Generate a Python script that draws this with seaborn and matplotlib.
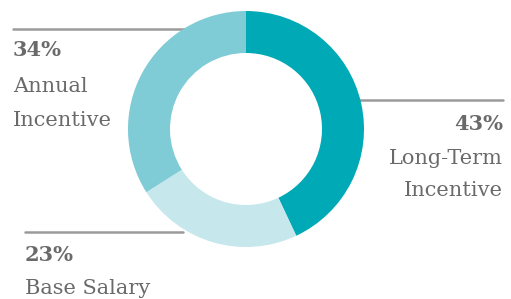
import matplotlib
matplotlib.use("Agg")
import matplotlib.pyplot as plt
import seaborn as sns

# pay mix shares, clockwise from 12 o'clock
categories = ["Long-Term Incentive", "Base Salary", "Annual Incentive"]
shares = [43, 23, 34]
colors = ["#00a9b6", "#c6e7ec", "#7fcbd6"]

sns.set_theme(style="white")
plt.rcParams['font.family'] = ['DejaVu Serif']

W, H = 511, 299
fig = plt.figure(figsize=(W / 100, H / 100), dpi=100)
ax = fig.add_axes([0, 0, 1, 1])

cx, cy, r = 246, H - 129, 118
ax.pie(shares, colors=colors, startangle=90, counterclock=False,
       center=(cx, cy), radius=r, frame=True,
       wedgeprops=dict(width=42, edgecolor="none"))

ax.set_xlim(0, W)
ax.set_ylim(0, H)
ax.set_aspect('equal')
ax.axis('off')

txt = "#6a6a6a"
line = "#9a9a9a"
fs = 15

# Annual incentive (top left)
ax.plot([13, 187], [H - 29, H - 29], color=line, lw=1.8, zorder=0)
ax.text(13, H - 50, f"{shares[2]}%", color=txt, fontsize=fs, fontweight="bold", va="center", ha="left")
ax.text(13, H - 86, "Annual", color=txt, fontsize=fs, va="center", ha="left")
ax.text(13, H - 120, "Incentive", color=txt, fontsize=fs, va="center", ha="left")

# Long-term incentive (right)
ax.plot([358, 503], [H - 100, H - 100], color=line, lw=1.8, zorder=0)
ax.text(503, H - 124, f"{shares[0]}%", color=txt, fontsize=fs, fontweight="bold", va="center", ha="right")
ax.text(503, H - 158, "Long-Term", color=txt, fontsize=fs, va="center", ha="right")
ax.text(503, H - 190, "Incentive", color=txt, fontsize=fs, va="center", ha="right")

# Base salary (bottom left)
ax.plot([25, 183], [H - 232, H - 232], color=line, lw=1.8, zorder=0)
ax.text(25, H - 255, f"{shares[1]}%", color=txt, fontsize=fs, fontweight="bold", va="center", ha="left")
ax.text(25, H - 289, "Base Salary", color=txt, fontsize=fs, va="center", ha="left")

fig.savefig("out.png", dpi=100, facecolor="white")
